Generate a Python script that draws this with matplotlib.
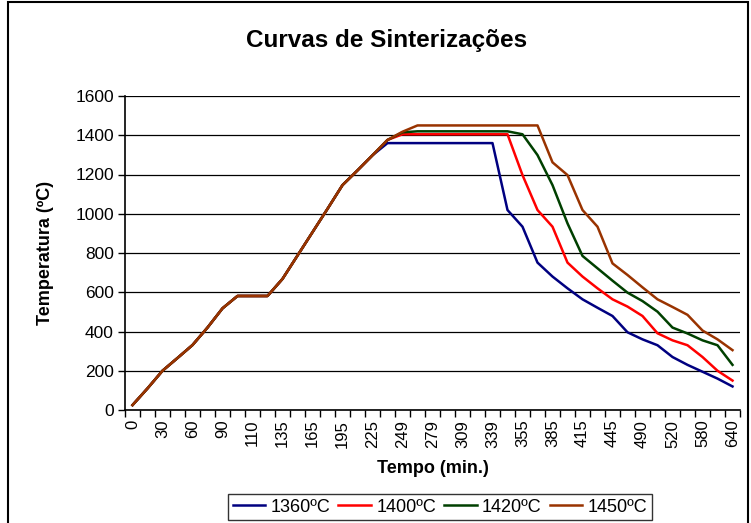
import matplotlib.pyplot as plt
from matplotlib.patches import Rectangle

plt.rcParams['font.family'] = ['Liberation Sans', 'DejaVu Sans']

# tick labels, one per two categories (41 categories in total)
time_labels = ['0', '30', '60', '90', '110', '135', '165', '195', '225', '249',
               '279', '309', '339', '355', '385', '415', '445', '490', '520',
               '580', '640']

ramp = [25, 110, 200, 265, 331, 420, 518, 581, 581, 581, 668, 787, 906,
        1025, 1146, 1221, 1298]

t1360 = ramp + [1360, 1360, 1360, 1360, 1360, 1360, 1360, 1360, 1019, 934,
                751, 680, 620, 564, 521, 479, 396, 360, 330, 270, 230, 195,
                160, 120]
t1400 = ramp + [1376, 1405, 1405, 1405, 1405, 1405, 1405, 1405, 1405, 1197,
                1019, 934, 751, 680, 620, 564, 527, 479, 391, 355, 330, 270,
                200, 150]
t1420 = ramp + [1376, 1415, 1420, 1420, 1420, 1420, 1420, 1420, 1420, 1405,
                1299, 1146, 951, 785, 722, 659, 598, 555, 501, 420, 390, 355,
                330, 230]
t1450 = ramp + [1376, 1418, 1450, 1450, 1450, 1450, 1450, 1450, 1450, 1450,
                1450, 1262, 1197, 1019, 934, 747, 688, 625, 564, 525, 485,
                405, 360, 305]

series = [('1360ºC', t1360, '#000080'),
          ('1400ºC', t1400, '#ff0000'),
          ('1420ºC', t1420, '#004000'),
          ('1450ºC', t1450, '#993300')]

fig = plt.figure(figsize=(7.51, 5.23), dpi=100)
ax = fig.add_axes([125 / 751, 1 - 410 / 523, 615 / 751, 314 / 523])

n = len(t1360)
xs = list(range(n))
for name, vals, col in series:
    ax.plot(xs, vals, color=col, lw=1.8, label=name)

ax.set_xlim(-0.5, n - 0.5)
ax.set_ylim(0, 1600)
ax.set_yticks(range(0, 1601, 200))
ax.yaxis.grid(True, color='black', lw=0.9)
ax.set_axisbelow(True)

ax.set_xticks([i * 2 for i in range(len(time_labels))])
ax.set_xticklabels(time_labels, rotation=90, fontsize=12)
ax.set_xticks([i - 0.5 for i in range(n + 1)], minor=True)
ax.tick_params(axis='x', which='major', length=0, pad=7)
ax.tick_params(axis='x', which='minor', length=5, width=1, direction='out')
ax.tick_params(axis='y', length=5, width=1, labelsize=12.5, pad=3)

for s in ['top', 'right']:
    ax.spines[s].set_visible(False)
for s in ['left', 'bottom']:
    ax.spines[s].set_linewidth(1.2)

ax.set_xlabel('Tempo (min.)', fontsize=13, fontweight='bold', labelpad=9)
ax.set_ylabel('Temperatura (ºC)', fontsize=13, fontweight='bold', labelpad=15)
fig.text(387 / 751, 1 - 40 / 523, 'Curvas de Sinterizações', fontsize=17.5,
         fontweight='bold', ha='center', va='center')

fig.legend(loc='center', bbox_to_anchor=(440 / 751, 1 - 507 / 523), ncol=4,
           frameon=True, fancybox=False, edgecolor='black', fontsize=13,
           handlelength=1.8, columnspacing=0.45, handletextpad=0.3,
           borderpad=0.25, borderaxespad=0)

fig.patches.append(Rectangle((8 / 751, -0.01), 740 / 751, 1 - 2 / 523 + 0.01,
                             transform=fig.transFigure, fill=False,
                             edgecolor='black', lw=1.5))

fig.savefig('out.png', dpi=100)
